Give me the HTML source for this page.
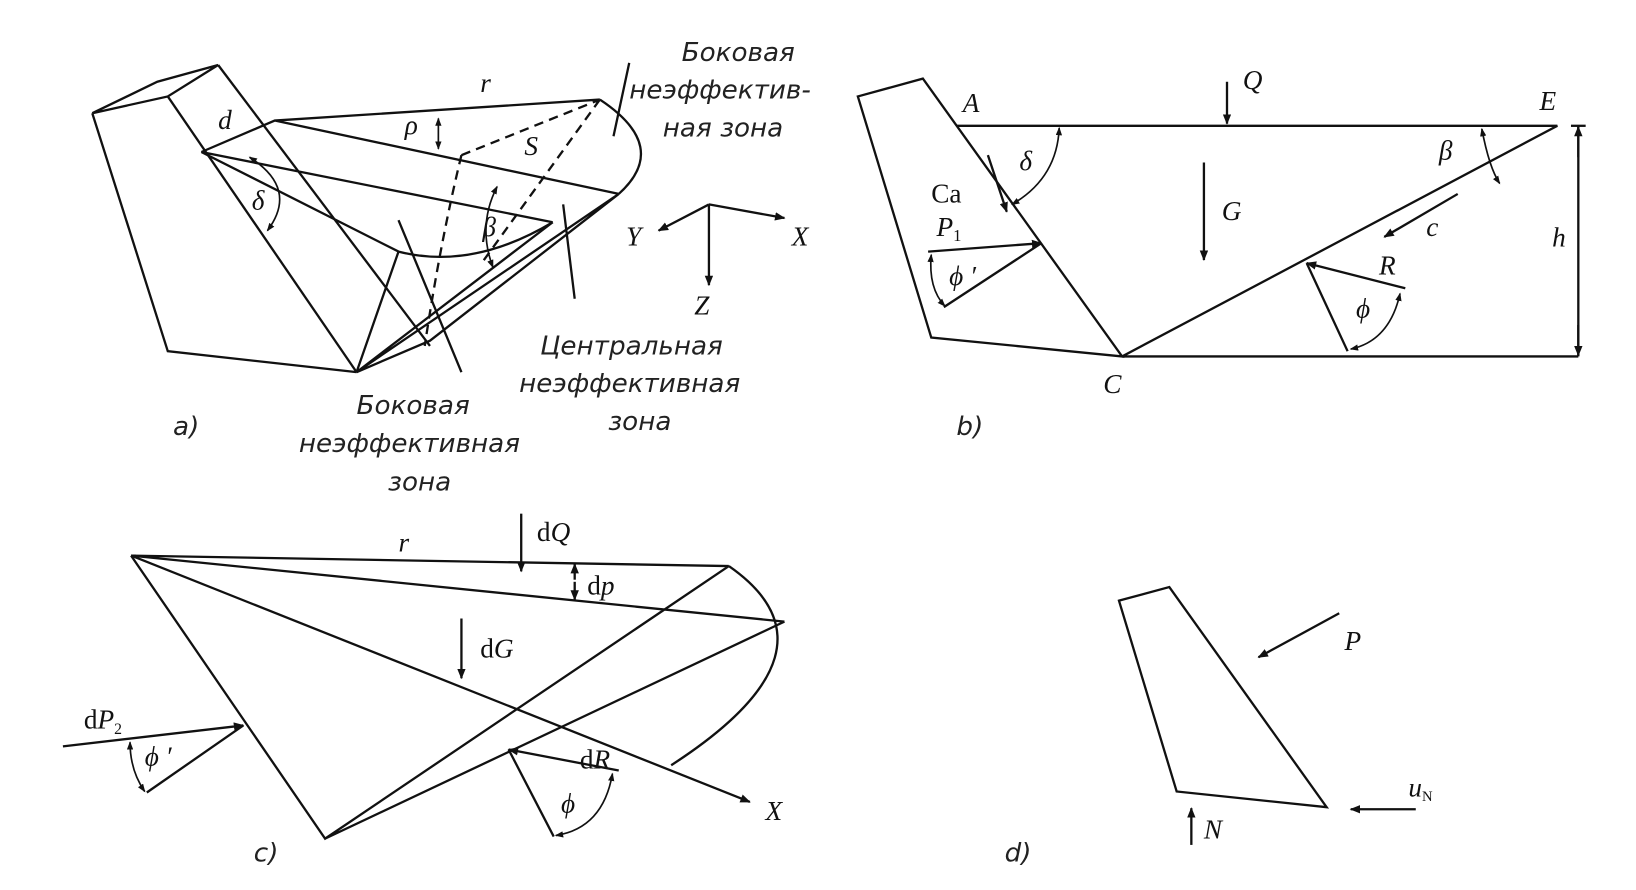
<!DOCTYPE html>
<html><head><meta charset="utf-8"><style>
html,body{margin:0;padding:0;background:#fff;}
svg{display:block}
.s{font-family:"Liberation Serif",serif;font-style:italic;font-size:26px;fill:#111}
.r{font-family:"Liberation Serif",serif;font-size:26px;fill:#111}
.c{font-family:"DejaVu Sans","Liberation Sans",sans-serif;font-style:italic;font-size:25px;fill:#222}
</style></head><body>
<svg width="1636" height="890" viewBox="0 0 1560 849" preserveAspectRatio="none" xmlns="http://www.w3.org/2000/svg">
<defs>
<marker id="a" markerWidth="10" markerHeight="8" refX="9" refY="4" orient="auto" markerUnits="userSpaceOnUse"><path d="M0,0 L10,4 L0,8 z" fill="#111"/></marker>
<marker id="b" markerWidth="8" markerHeight="6" refX="7" refY="3" orient="auto" markerUnits="userSpaceOnUse"><path d="M0,0 L8,3 L0,6 z" fill="#111"/></marker>
<marker id="bs" markerWidth="8" markerHeight="6" refX="1" refY="3" orient="auto" markerUnits="userSpaceOnUse"><path d="M8,0 L0,3 L8,6 z" fill="#111"/></marker>
</defs>
<g fill="none" stroke="#111" stroke-width="2.2">
<!-- panel a -->
<polyline points="88,108 160,335 340,355"/>
<path d="M88,108 L150,78 L208,62 M88,108 L160,92 L208,62"/>
<line x1="160" y1="92" x2="340" y2="355"/>
<line x1="208" y1="62" x2="410" y2="330"/>
<path d="M192,145 L262,115 L572,95 M262,115 L590,185 M192,145 L527,212 M192,145 L380,240 Q450,258 527,212"/>
<path d="M572,95 Q640,140 590,185"/>
<path d="M590,185 L410,325 L340,355 L527,212 M590,185 L340,355 M380,240 L340,355"/>
<path d="M572,95 L460,250 M440,148 L572,95 M440,148 Q420,230 405,330" stroke-dasharray="9,6"/>
<path d="M600,60 L585,130 M380,210 L440,355 M537,195 L548,285"/>
<path d="M238,150 Q285,180 255,220" stroke-width="1.6" marker-start="url(#bs)" marker-end="url(#b)"/>
<path d="M418,113 L418,142" stroke-width="1.6" marker-start="url(#bs)" marker-end="url(#b)"/>
<path d="M474,178 Q455,215 470,255" stroke-width="1.6" marker-start="url(#bs)" marker-end="url(#b)"/>
<line x1="676" y1="195" x2="748" y2="208" marker-end="url(#a)"/>
<line x1="676" y1="195" x2="628" y2="220" marker-end="url(#a)"/>
<line x1="676" y1="195" x2="676" y2="272" marker-end="url(#a)"/>
<!-- panel b -->
<polygon points="818,92 880,75 1070,340 888,322"/>
<path d="M912,120 L1485,120 L1070,340 L1505,340"/>
<line x1="1505" y1="120" x2="1505" y2="340"/>
<path d="M1498,120 L1512,120"/>
<line x1="1505" y1="150" x2="1505" y2="121" marker-end="url(#a)"/>
<line x1="1505" y1="310" x2="1505" y2="339" marker-end="url(#a)"/>
<line x1="1170" y1="78" x2="1170" y2="118" marker-end="url(#a)"/>
<line x1="1148" y1="155" x2="1148" y2="248" marker-end="url(#a)"/>
<path d="M1010,122 Q1008,170 965,195" stroke-width="1.6" marker-start="url(#bs)" marker-end="url(#b)"/>
<path d="M1413,123 Q1420,160 1430,175" stroke-width="1.6" marker-start="url(#bs)" marker-end="url(#b)"/>
<line x1="1390" y1="185" x2="1320" y2="226" marker-end="url(#a)"/>
<line x1="942" y1="148" x2="960" y2="202" marker-end="url(#a)"/>
<line x1="885" y1="240" x2="993" y2="232" marker-end="url(#a)"/>
<line x1="993" y1="232" x2="900" y2="293"/>
<path d="M888,243 Q885,275 901,292" stroke-width="1.6" marker-start="url(#bs)" marker-end="url(#b)"/>
<line x1="1340" y1="275" x2="1246" y2="251" marker-end="url(#a)"/>
<line x1="1246" y1="251" x2="1285" y2="335"/>
<path d="M1335,280 Q1325,325 1288,333" stroke-width="1.6" marker-start="url(#bs)" marker-end="url(#b)"/>
<!-- panel c -->
<path d="M125,530 L695,540 M125,530 L748,593 M125,530 L310,800 L695,540 M310,800 L748,593"/>
<line x1="125" y1="530" x2="715" y2="765" marker-end="url(#a)"/>
<path d="M695,540 Q810,620 640,730"/>
<line x1="497" y1="490" x2="497" y2="545" marker-end="url(#a)"/>
<line x1="548" y1="553" x2="548" y2="538" marker-end="url(#a)"/>
<line x1="548" y1="555" x2="548" y2="572" marker-end="url(#a)"/>
<line x1="440" y1="590" x2="440" y2="647" marker-end="url(#a)"/>
<line x1="60" y1="712" x2="232" y2="692" marker-end="url(#a)"/>
<line x1="232" y1="692" x2="140" y2="756"/>
<path d="M124,708 Q124,735 138,755" stroke-width="1.6" marker-start="url(#bs)" marker-end="url(#b)"/>
<line x1="590" y1="735" x2="485" y2="715" marker-end="url(#a)"/>
<line x1="485" y1="715" x2="528" y2="798"/>
<path d="M584,738 Q575,790 530,797" stroke-width="1.6" marker-start="url(#bs)" marker-end="url(#b)"/>
<!-- panel d -->
<polygon points="1067,573 1115,560 1265,770 1122,755"/>
<line x1="1277" y1="585" x2="1200" y2="627" marker-end="url(#a)"/>
<line x1="1136" y1="806" x2="1136" y2="771" marker-end="url(#a)"/>
<line x1="1350" y1="772" x2="1288" y2="772" marker-end="url(#a)"/>
</g>
<!-- labels a -->
<text class="s" x="208" y="123">d</text>
<text class="s" x="458" y="88">r</text>
<text class="s" x="386" y="128">ρ</text>
<text class="s" x="500" y="148">S</text>
<text class="s" x="240" y="200">δ</text>
<text class="s" x="460" y="225">β</text>
<text class="s" x="597" y="234">Y</text>
<text class="s" x="755" y="234">X</text>
<text class="s" x="662" y="300">Z</text>
<text class="c" x="650" y="58">Боковая</text>
<text class="c" x="600" y="94">неэффектив-</text>
<text class="c" x="632" y="130">ная зона</text>
<text class="c" x="515" y="338">Центральная</text>
<text class="c" x="495" y="374">неэффективная</text>
<text class="c" x="580" y="410">зона</text>
<text class="c" x="340" y="395">Боковая</text>
<text class="c" x="285" y="431">неэффективная</text>
<text class="c" x="370" y="468">зона</text>
<text class="c" x="165" y="415">a)</text>
<!-- labels b -->
<text class="s" x="918" y="107">A</text>
<text class="s" x="1468" y="105">E</text>
<text class="s" x="1185" y="85">Q</text>
<text class="s" x="972" y="162">δ</text>
<text class="s" x="1372" y="152">β</text>
<text class="r" x="888" y="193">Ca</text>
<text class="s" x="1165" y="210">G</text>
<text class="s" x="1360" y="225">c</text>
<text class="s" x="1480" y="235">h</text>
<text class="s" x="893" y="225">P<tspan font-size="16" dy="5" font-style="normal">1</tspan></text>
<text class="s" x="905" y="272">ϕ ′</text>
<text class="s" x="1315" y="262">R</text>
<text class="s" x="1293" y="303">ϕ</text>
<text class="s" x="1052" y="375">C</text>
<text class="c" x="912" y="415">b)</text>
<!-- labels c -->
<text class="s" x="380" y="526">r</text>
<text class="r" x="512" y="516">d<tspan font-style="italic">Q</tspan></text>
<text class="r" x="560" y="567">d<tspan font-style="italic">p</tspan></text>
<text class="r" x="458" y="627">d<tspan font-style="italic">G</tspan></text>
<text class="r" x="80" y="695">d<tspan font-style="italic">P</tspan><tspan font-size="15" dy="5">2</tspan></text>
<text class="s" x="138" y="730">ϕ ′</text>
<text class="r" x="553" y="733">d<tspan font-style="italic">R</tspan></text>
<text class="s" x="535" y="775">ϕ</text>
<text class="s" x="730" y="782">X</text>
<text class="c" x="242" y="822">c)</text>
<!-- labels d -->
<text class="s" x="1282" y="620">P</text>
<text class="s" x="1148" y="800">N</text>
<text class="s" x="1343" y="760">u<tspan font-size="14" dy="4" font-style="normal">N</tspan></text>
<text class="c" x="958" y="822">d)</text>
</svg>
</body></html>
